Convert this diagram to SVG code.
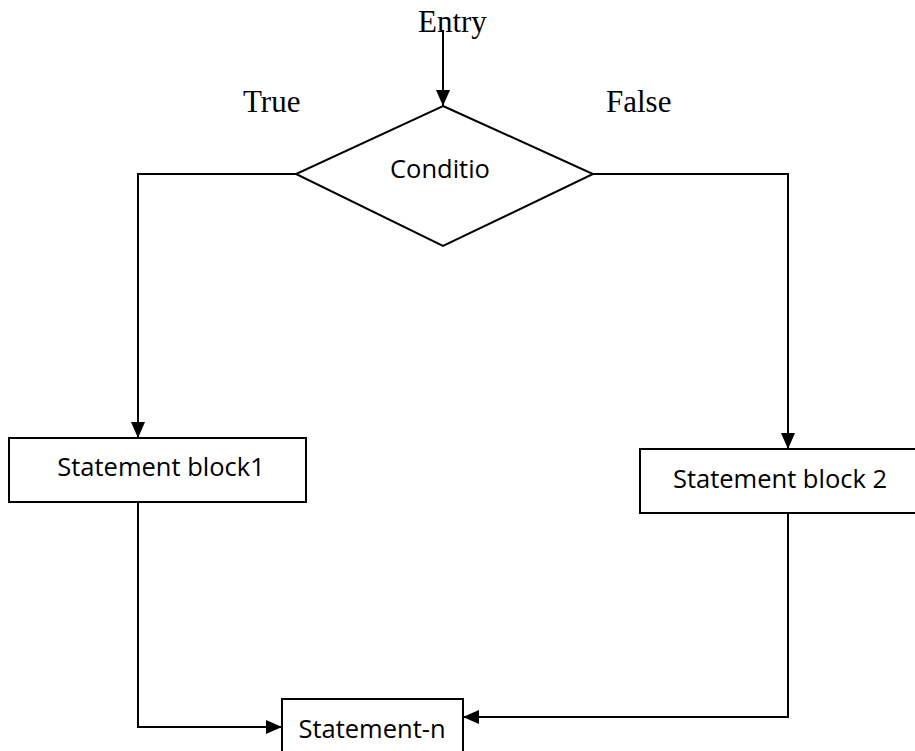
<svg xmlns="http://www.w3.org/2000/svg" width="915" height="751" viewBox="0 0 915 751">
  <style>
    .shape { fill: #ffffff; stroke: #000000; stroke-width: 2; }
    .wire { fill: none; stroke: #000000; stroke-width: 2; }
    .serif { font-family: "Liberation Serif", "Times New Roman", serif; font-size: 31px; fill: #000000; }
    .sans { font-family: "Open Sans", "Liberation Sans", sans-serif; font-size: 25.5px; fill: #000000; text-anchor: middle; }
  </style>
  <defs>
    <marker id="arrow" viewBox="0 0 16 14" refX="16" refY="7" markerWidth="16" markerHeight="14" markerUnits="userSpaceOnUse" orient="auto">
      <path d="M0,0 L16,7 L0,14 Z" fill="#000000"/>
    </marker>
  </defs>
  <rect width="915" height="751" fill="#ffffff"/>

  <!-- branch labels -->
  <text class="serif" x="418" y="32">Entry</text>
  <text class="serif" x="243" y="112">True</text>
  <text class="serif" x="606" y="112">False</text>

  <!-- connectors -->
  <g id="connectors">
    <path class="wire" d="M443,30 L443,106" marker-end="url(#arrow)"/>
    <path class="wire" d="M296,174 L138,174 L138,438" marker-end="url(#arrow)"/>
    <path class="wire" d="M593,174 L788,174 L788,449" marker-end="url(#arrow)"/>
    <path class="wire" d="M138,502 L138,727 L282,727" marker-end="url(#arrow)"/>
    <path class="wire" d="M788,513 L788,717 L463,717" marker-end="url(#arrow)"/>
  </g>

  <g id="condition">
    <polygon class="shape" points="443,106 593,174 443,246 296,174"/>
    <text class="sans" x="440" y="178">Conditio</text>
  </g>

  <g id="block1">
    <rect class="shape" x="9" y="438" width="297" height="64"/>
    <text class="sans" x="161" y="476">Statement block1</text>
  </g>

  <g id="block2">
    <rect class="shape" x="640" y="449" width="290" height="64"/>
    <text class="sans" x="780" y="488">Statement block 2</text>
  </g>

  <g id="statement-n">
    <rect class="shape" x="282" y="699" width="181" height="70"/>
    <text class="sans" x="372" y="738">Statement-n</text>
  </g>
</svg>
